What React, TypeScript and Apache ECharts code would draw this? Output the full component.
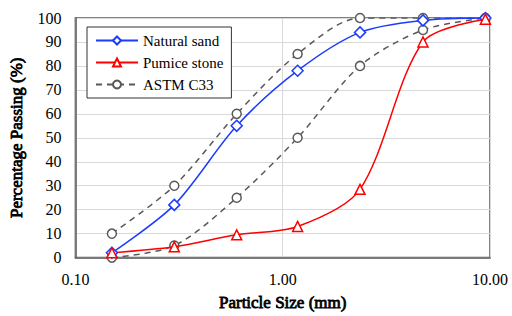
import React, { useEffect, useRef } from "react";
import * as echarts from "echarts";

const sieveSizes = [0.15, 0.3, 0.6, 1.18, 2.36, 4.75, 9.5];
const naturalSand = [2, 22, 55, 78, 94, 99, 100];
const pumiceStone = [2, 4.5, 9.5, 13, 28.5, 90, 99.5];
const astmUpper = [10, 30, 60, 85, 100, 100, 100];
const astmLower = [0, 5, 25, 50, 80, 95, 100];
const yTicks = [0, 10, 20, 30, 40, 50, 60, 70, 80, 90, 100];

const pair = (ys: number[]) => sieveSizes.map((x, i) => [x, ys[i]]);

const FONT = "Liberation Serif";

export default function App() {
  const ref = useRef<HTMLDivElement>(null);
  useEffect(() => {
    if (!ref.current) return;
    const chart = echarts.init(ref.current, null, { renderer: "svg" });
    const gray = "#595959";
    const nameStyle = {
      fontFamily: FONT,
      fontSize: 17,
      color: "#000",
      textBorderColor: "#000",
      textBorderWidth: 0.8,
    };
    chart.setOption({
      animation: false,
      grid: {
        left: 75,
        right: 22,
        top: 18,
        bottom: 56,
        show: true,
        borderColor: gray,
        borderWidth: 1.5,
        backgroundColor: "transparent",
      },
      legend: {
        orient: "vertical",
        left: 87,
        top: 27,
        backgroundColor: "#fff",
        borderColor: "#333",
        borderWidth: 1,
        padding: [6, 8, 6, 8],
        itemWidth: 42,
        itemHeight: 10,
        itemGap: 7,
        textStyle: { fontFamily: FONT, fontSize: 15, color: "#000" },
        data: ["Natural sand", "Pumice stone", "ASTM C33"],
      },
      xAxis: {
        type: "log",
        logBase: 10,
        min: 0.1,
        max: 10,
        name: "Particle Size (mm)",
        nameLocation: "middle",
        nameGap: 36,
        nameTextStyle: nameStyle,
        axisLine: { show: true, lineStyle: { color: gray, width: 1.5 } },
        axisTick: { show: false },
        axisLabel: {
          fontFamily: FONT,
          fontSize: 16,
          color: "#000",
          margin: 14,
          formatter: (v: number) => v.toFixed(2),
        },
        splitLine: { show: true, lineStyle: { color: "#d9d9d9", width: 1 } },
        minorTick: { show: false },
      },
      yAxis: {
        type: "value",
        min: yTicks[0],
        max: yTicks[yTicks.length - 1],
        interval: 10,
        name: "Percentage Passing (%)",
        nameLocation: "middle",
        nameGap: 50,
        nameTextStyle: nameStyle,
        axisLine: { show: true, lineStyle: { color: gray, width: 1.5 } },
        axisTick: { show: false },
        axisLabel: { fontFamily: FONT, fontSize: 16, color: "#000", margin: 14 },
        splitLine: { show: true, lineStyle: { color: "#d9d9d9", width: 1 } },
      },
      series: [
        {
          name: "ASTM C33",
          type: "line",
          data: pair(astmUpper),
          smooth: 0.3,
          symbol: "circle",
          symbolSize: 9,
          lineStyle: { color: "#595959", width: 1.5, type: [6, 5] },
          itemStyle: { color: "#fff", borderColor: "#595959", borderWidth: 1.5 },
          z: 2,
        },
        {
          name: "ASTM C33",
          type: "line",
          data: pair(astmLower),
          smooth: 0.3,
          symbol: "circle",
          symbolSize: 9,
          lineStyle: { color: "#595959", width: 1.5, type: [6, 5] },
          itemStyle: { color: "#fff", borderColor: "#595959", borderWidth: 1.5 },
          z: 2,
        },
        {
          name: "Natural sand",
          type: "line",
          data: pair(naturalSand),
          smooth: 0.3,
          symbol: "diamond",
          symbolSize: 11,
          lineStyle: { color: "#1a3cff", width: 1.5 },
          itemStyle: { color: "#fff", borderColor: "#1a3cff", borderWidth: 1.5 },
          z: 3,
        },
        {
          name: "Pumice stone",
          type: "line",
          data: pair(pumiceStone),
          smooth: 0.3,
          symbol: "triangle",
          symbolSize: 10,
          lineStyle: { color: "#ff0000", width: 1.5 },
          itemStyle: { color: "#fff", borderColor: "#ff0000", borderWidth: 1.5 },
          z: 3,
        },
      ],
    });
    return () => chart.dispose();
  }, []);
  return (
    <div
      ref={ref}
      style={{ position: "fixed", left: 0, top: 0, width: 512, height: 316, background: "#fff" }}
    />
  );
}
